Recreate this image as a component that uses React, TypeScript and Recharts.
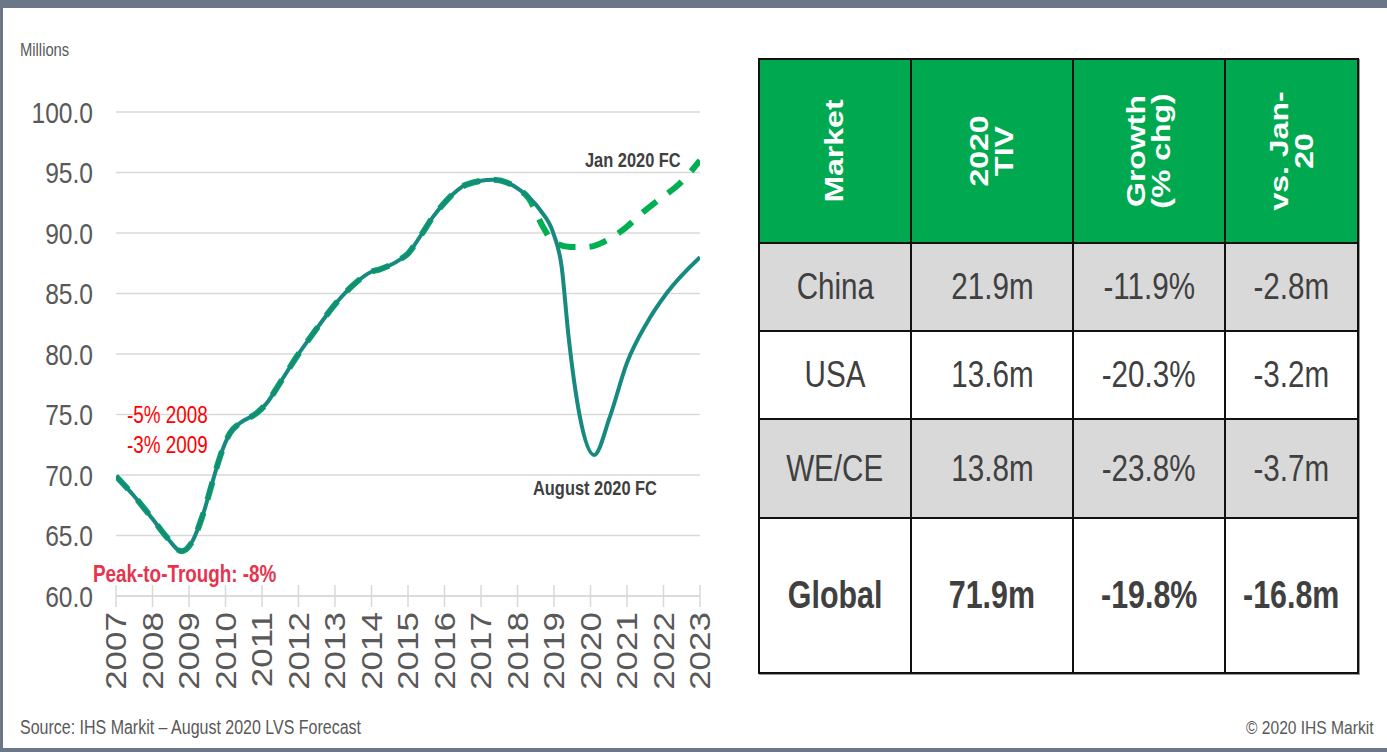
import React from "react";
import { LineChart, Line, XAxis, YAxis, CartesianGrid } from "recharts";

// ---- chart data (millions of light vehicles) ----
const yearTicks = [2007, 2008, 2009, 2010, 2011, 2012, 2013, 2014, 2015, 2016, 2017, 2018, 2019, 2020, 2021, 2022, 2023];
const valueTicks = [60, 65, 70, 75, 80, 85, 90, 95, 100];

const augYears = [
  2007.0, 2007.47, 2008.02, 2008.38, 2008.8, 2009.07, 2009.39, 2009.66, 2009.85, 2010.12,
  2010.4, 2010.85, 2011.12, 2011.49, 2012.0, 2012.5, 2013.0, 2013.5, 2014.0, 2014.23,
  2014.78, 2015.0, 2015.33, 2015.69, 2016.06, 2016.6, 2017.33, 2018.07, 2018.62, 2018.98,
  2019.21, 2019.39, 2019.71, 2020.1, 2020.53, 2020.99, 2021.54, 2022.08, 2023.0,
];
const augValues = [
  69.9, 68.35, 66.3, 64.9, 63.7, 64.4, 66.8, 69.6, 71.5, 73.45,
  74.3, 75.1, 75.9, 77.6, 80.0, 82.1, 84.1, 85.7, 86.8, 87.0,
  87.8, 88.3, 89.7, 91.35, 92.7, 94.0, 94.4, 93.55, 91.9, 90.0,
  87.2, 81.7, 74.8, 71.65, 74.8, 79.2, 82.55, 85.0, 88.0,
];

// Jan 2020 forecast follows history up to 2018, then its own path
const janYears = [
  ...augYears.slice(0, 28),
  2018.3, 2018.7, 2018.97, 2019.44, 2019.93, 2020.45, 2020.95, 2021.41, 2021.85, 2022.45, 2023.0,
];
const janValues = [
  ...augValues.slice(0, 28),
  92.9, 90.5, 89.3, 88.85, 88.85, 89.4, 90.4, 91.65, 92.7, 94.1, 96.0,
];

// ---- table data ----
const tableHeaders = ["Market", "2020\nTIV", "Growth\n(% chg)", "vs. Jan-\n20"];
const markets = ["China", "USA", "WE/CE", "Global"];
const tiv2020 = ["21.9m", "13.6m", "13.8m", "71.9m"];
const growth = ["-11.9%", "-20.3%", "-23.8%", "-19.8%"];
const vsJan = ["-2.8m", "-3.2m", "-3.7m", "-16.8m"];

const augData = augYears.map((t, i) => ({ t, v: augValues[i] }));
const janData = janYears.map((t, i) => ({ t, v: janValues[i] }));

// no narrow face installed: squeeze Liberation Sans horizontally instead
const SANS = '"Liberation Sans", Arial, sans-serif';
const SQUEEZE = 0.82;
const GREY_TEXT = "#595959";
const FRAME = "#6b7787";

function YearTick({ x, y, payload }: any) {
  const axisY = y - 16;
  return (
    <g>
      <line x1={x} x2={x} y1={axisY - 11} y2={axisY + 11} stroke="#d9d9d9" strokeWidth={1.5} />
      <text
        transform={`translate(${x},${y}) scale(${SQUEEZE},1) rotate(-90)`}
        textAnchor="end"
        dy="0.36em"
        fill={GREY_TEXT}
        fontSize={35}
        fontFamily={SANS}
      >
        {payload.value}
      </text>
    </g>
  );
}

function ValueTick({ x, y, payload }: any) {
  return (
    <text
      transform={`translate(${x},${y}) scale(${SQUEEZE},1)`}
      textAnchor="end"
      dy="0.36em"
      fill={GREY_TEXT}
      fontSize={30}
      fontFamily={SANS}
    >
      {payload.value.toFixed(1)}
    </text>
  );
}

function Note({ left, top, size, color, bold, children, right }: any) {
  return (
    <div
      style={{
        position: "absolute",
        left,
        right,
        top,
        fontSize: size,
        lineHeight: 1,
        color,
        fontWeight: bold ? 700 : 400,
        whiteSpace: "nowrap",
        fontFamily: SANS,
        transform: `scaleX(${SQUEEZE})`,
        transformOrigin: right !== undefined ? "right center" : "left center",
      }}
    >
      {children}
    </div>
  );
}

const colW = [152, 162, 152, 133];
const rowH = [184, 88, 88, 99, 155];
const rowBg = ["#00a94f", "#d9d9d9", "#ffffff", "#d9d9d9", "#ffffff"];

function MarketTable() {
  const rows = markets.map((m, i) => [m, tiv2020[i], growth[i], vsJan[i]]);
  const cells: React.ReactNode[] = [];
  let top = 0;
  rowH.forEach((h, r) => {
    let left = 0;
    colW.forEach((w, c) => {
      const isHead = r === 0;
      const isTotal = r === rowH.length - 1;
      cells.push(
        <div
          key={`${r}-${c}`}
          style={{
            position: "absolute",
            left,
            top,
            width: w,
            height: h,
            boxSizing: "border-box",
            borderRight: "2px solid #111",
            borderBottom: "2px solid #111",
            background: rowBg[r],
            display: "flex",
            alignItems: "center",
            justifyContent: "center",
          }}
        >
          {isHead ? (
            <div
              style={{
                transform: "scaleX(0.78) rotate(-90deg)",
                whiteSpace: "pre",
                textAlign: "center",
                lineHeight: "32px",
                fontFamily: SANS,
                fontWeight: 700,
                fontSize: 32,
                color: "#ffffff",
              }}
            >
              {tableHeaders[c]}
            </div>
          ) : (
            <div
              style={{
                fontFamily: SANS,
                fontSize: isTotal ? 38 : 37,
                fontWeight: isTotal ? 700 : 400,
                color: "#404040",
                whiteSpace: "nowrap",
                transform: "scaleX(0.8)",
              }}
            >
              {rows[r - 1][c]}
            </div>
          )}
        </div>
      );
      left += w;
    });
    top += h;
  });
  return (
    <div
      style={{
        position: "absolute",
        left: 758,
        top: 58,
        width: colW.reduce((a, b) => a + b, 0),
        height: rowH.reduce((a, b) => a + b, 0),
        borderLeft: "2px solid #111",
        borderTop: "2px solid #111",
        boxShadow: "1px 1px 0 #999",
      }}
    >
      {cells}
    </div>
  );
}

export default function App() {
  return (
    <div
      style={{
        position: "fixed",
        left: 0,
        top: 0,
        width: 1387,
        height: 752,
        background: "#ffffff",
        overflow: "hidden",
        fontFamily: SANS,
      }}
    >
      <div style={{ position: "absolute", left: 0, top: 0, width: 1387, height: 8, background: FRAME }} />
      <div style={{ position: "absolute", left: 0, top: 0, width: 3, height: 752, background: FRAME }} />
      <div style={{ position: "absolute", left: 0, top: 748, width: 1387, height: 4, background: FRAME }} />

      <div style={{ position: "absolute", left: 0, top: 0 }}>
        <LineChart width={720} height={700} margin={{ top: 112, right: 20, bottom: 14, left: 0 }}>
          <CartesianGrid vertical={false} stroke="#d9d9d9" strokeWidth={1.5} />
          <XAxis
            dataKey="t"
            type="number"
            domain={[2007, 2023]}
            ticks={yearTicks}
            allowDataOverflow
            height={90}
            tickSize={11}
            tickMargin={5}
            tickLine={false}
            axisLine={{ stroke: "#d9d9d9", strokeWidth: 1.5 }}
            tick={<YearTick />}
            interval={0}
          />
          <YAxis
            type="number"
            domain={[60, 100]}
            ticks={valueTicks}
            width={116}
            axisLine={false}
            tickLine={false}
            tickSize={8}
            tickMargin={15}
            tick={<ValueTick />}
            interval={0}
          />
          <Line
            data={janData}
            dataKey="v"
            type="monotone"
            stroke="#00b050"
            strokeWidth={6}
            strokeDasharray="18 14"
            dot={false}
            isAnimationActive={false}
          />
          <Line
            data={augData}
            dataKey="v"
            type="monotone"
            stroke="#178a80"
            strokeWidth={4}
            dot={false}
            isAnimationActive={false}
          />
        </LineChart>
      </div>

      <Note left={20} top={41} size={18} color={GREY_TEXT}>Millions</Note>
      <Note left={585} top={150} size={20} color="#404040" bold>Jan 2020 FC</Note>
      <Note left={533} top={478} size={20} color="#404040" bold>August 2020 FC</Note>
      <Note left={127} top={404} size={23} color="#ff0000">-5% 2008</Note>
      <Note left={127} top={434} size={23} color="#ff0000">-3% 2009</Note>
      <Note left={93} top={563} size={23} color="#e6344f" bold>Peak-to-Trough: -8%</Note>
      <Note left={20} top={718} size={19.5} color={GREY_TEXT}>Source: IHS Markit – August 2020 LVS Forecast</Note>
      <Note right={14} top={718} size={19} color={GREY_TEXT}>© 2020 IHS Markit</Note>

      <MarketTable />
    </div>
  );
}
